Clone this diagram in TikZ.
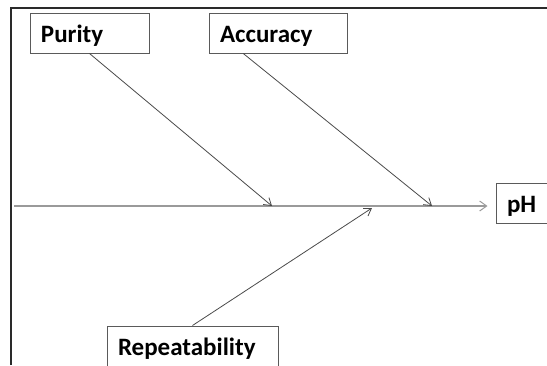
\documentclass[tikz,border=0pt]{standalone}
\usepackage{fontspec}
\setmainfont{Carlito}
\usetikzlibrary{arrows.meta,calc}
\definecolor{spinegray}{HTML}{9A9A9A}
\definecolor{bonegray}{HTML}{4A4A4A}
\definecolor{framegray}{HTML}{2A2A2A}
\definecolor{boxgray}{HTML}{5A5A5A}
\tikzset{
  causebox/.style={draw=boxgray, line width=1pt, rectangle, inner xsep=11pt,
    inner ysep=0pt, text width=#1, align=left, minimum height=40pt,
    text height=21pt, text depth=2pt,
    font=\fontsize{25}{29}\selectfont\bfseries},
  bone/.style={draw=bonegray, line width=0.8pt,
    -{Straight Barb[length=7pt,width=9pt,line width=0.8pt]}},
  spine/.style={draw=spinegray, line width=1.8pt,
    -{Straight Barb[length=7pt,width=10pt,line width=1pt]}},
  frame/.style={draw=framegray, line width=1.6pt}
}
\begin{document}
\begin{tikzpicture}[x=1pt,y=-1pt]
  \useasboundingbox (0,0) rectangle (547,365);
  % outer frame (top and left edges)
  \coordinate (fl) at (11,365);
  \coordinate (ftl) at (11,8);
  \coordinate (ftr) at (547,8);
  \draw[frame] (fl) -- (ftl) -- (ftr);

  % cause boxes
  \node[causebox=97pt]  (purity)   at (89.5,33)  {Purity};
  \node[causebox=116pt] (accuracy) at (278,33)   {Accuracy};
  \node[causebox=149pt] (repeat)   at (192.5,346) {Repeatability};
  \node[causebox=33pt]  (ph)       at (523.5,203) {pH};

  % spine and where the bones meet it
  \coordinate (tail) at (14,206);
  \coordinate (jp) at (272,206);
  \coordinate (ja) at (432,206);
  \coordinate (jr) at (372,208);
  \draw[spine] (tail) -- ($(ph.west)+(-8,3)$);

  % bones
  \draw[bone] (purity.south) -- (jp);
  \draw[bone] ($(accuracy.south west)!0.25!(accuracy.south east)$) -- (ja);
  \draw[bone] (repeat.north) -- (jr);
\end{tikzpicture}
\end{document}
